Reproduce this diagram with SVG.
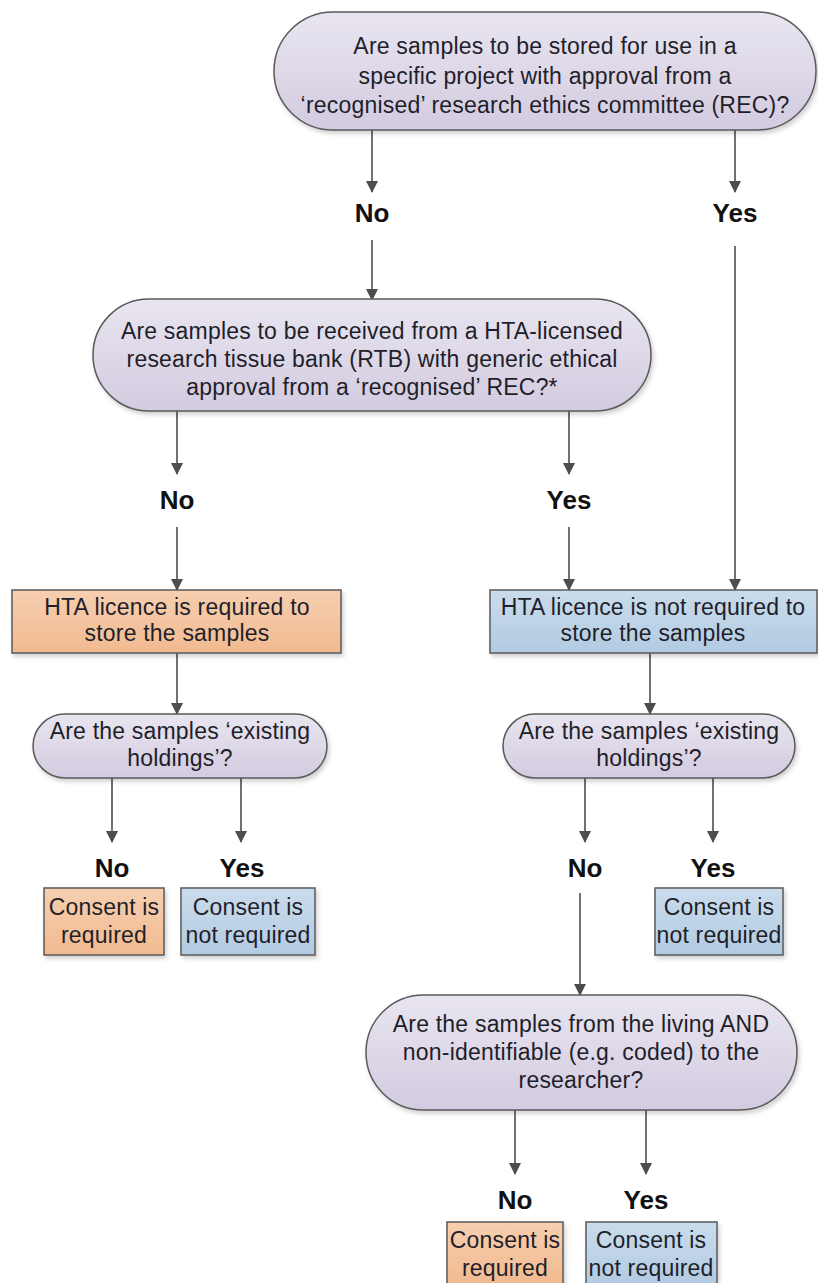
<svg xmlns="http://www.w3.org/2000/svg" width="818" height="1283" viewBox="0 0 818 1283">
<defs>
<linearGradient id="gp" x1="0" y1="0" x2="0" y2="1"><stop offset="0" stop-color="#e9e5f0"/><stop offset="1" stop-color="#d3cbe0"/></linearGradient>
<linearGradient id="go" x1="0" y1="0" x2="0" y2="1"><stop offset="0" stop-color="#f7cfb0"/><stop offset="1" stop-color="#f1ba90"/></linearGradient>
<linearGradient id="gb" x1="0" y1="0" x2="0" y2="1"><stop offset="0" stop-color="#cadcec"/><stop offset="1" stop-color="#b2cbe2"/></linearGradient>
<filter id="sh" x="-5%" y="-5%" width="115%" height="125%"><feDropShadow dx="2" dy="3" stdDeviation="2" flood-color="#000" flood-opacity="0.18"/></filter>
<marker id="ah" markerWidth="12" markerHeight="14" refX="11" refY="6" orient="auto" markerUnits="userSpaceOnUse" viewBox="0 0 12 12"><path d="M0,0 L12,6 L0,12 z" fill="#4d4d4d"/></marker>
</defs>
<style>
.p{fill:url(#gp);stroke:#5a5a5a;stroke-width:1.5;filter:url(#sh)}
.o{fill:url(#go);stroke:#5a5a5a;stroke-width:1.5;filter:url(#sh)}
.b{fill:url(#gb);stroke:#5a5a5a;stroke-width:1.5;filter:url(#sh)}
.t{font-family:"Liberation Sans",Arial,sans-serif;font-size:23px;letter-spacing:0.2px;fill:#1f1f2a;text-anchor:middle}
.l{font-family:"Liberation Sans",Arial,sans-serif;font-size:26px;font-weight:bold;fill:#111;text-anchor:middle}
.c{stroke:#4d4d4d;stroke-width:1.6;fill:none;marker-end:url(#ah)}
</style>
<g id="connectors">
<line class="c" x1="372" y1="130" x2="372" y2="192"/>
<line class="c" x1="372" y1="240" x2="372" y2="300"/>
<line class="c" x1="735" y1="130" x2="735" y2="192"/>
<line class="c" x1="735" y1="246" x2="735" y2="590"/>
<line class="c" x1="177" y1="411" x2="177" y2="474"/>
<line class="c" x1="177" y1="527" x2="177" y2="590"/>
<line class="c" x1="569" y1="411" x2="569" y2="474"/>
<line class="c" x1="569" y1="527" x2="569" y2="590"/>
<line class="c" x1="177" y1="653" x2="177" y2="714"/>
<line class="c" x1="650" y1="653" x2="650" y2="714"/>
<line class="c" x1="112" y1="778" x2="112" y2="842"/>
<line class="c" x1="241" y1="778" x2="241" y2="842"/>
<line class="c" x1="585" y1="778" x2="585" y2="842"/>
<line class="c" x1="713" y1="778" x2="713" y2="842"/>
<line class="c" x1="580" y1="893" x2="580" y2="995"/>
<line class="c" x1="515" y1="1110" x2="515" y2="1174"/>
<line class="c" x1="646" y1="1110" x2="646" y2="1174"/>
</g>
<g id="q1"><rect class="p" x="274" y="12" width="542" height="118" rx="59"/>
<text class="t" x="545" y="54">Are samples to be stored for use in a</text>
<text class="t" x="545" y="84">specific project with approval from a</text>
<text class="t" x="545" y="113">‘recognised’ research ethics committee (REC)?</text></g>
<g id="l1no"><text class="l" x="372" y="222">No</text></g>
<g id="l1yes"><text class="l" x="735" y="222">Yes</text></g>
<g id="q2"><rect class="p" x="93" y="299" width="558" height="112" rx="56"/>
<text class="t" x="372" y="339">Are samples to be received from a HTA-licensed</text>
<text class="t" x="372" y="367">research tissue bank (RTB) with generic ethical</text>
<text class="t" x="372" y="395">approval from a ‘recognised’ REC?*</text></g>
<g id="l2no"><text class="l" x="177" y="509">No</text></g>
<g id="l2yes"><text class="l" x="569" y="509">Yes</text></g>
<g id="r1"><rect class="o" x="12" y="590" width="329" height="63"/>
<text class="t" x="177" y="615">HTA licence is required to</text>
<text class="t" x="177" y="641">store the samples</text></g>
<g id="r2"><rect class="b" x="490" y="590" width="327" height="63"/>
<text class="t" x="653" y="615">HTA licence is not required to</text>
<text class="t" x="653" y="641">store the samples</text></g>
<g id="q3"><rect class="p" x="33" y="714" width="294" height="64" rx="32"/>
<text class="t" x="180" y="739">Are the samples ‘existing</text>
<text class="t" x="180" y="766">holdings’?</text></g>
<g id="q4"><rect class="p" x="503" y="714" width="292" height="64" rx="32"/>
<text class="t" x="649" y="739">Are the samples ‘existing</text>
<text class="t" x="649" y="766">holdings’?</text></g>
<g id="l3no"><text class="l" x="112" y="877">No</text></g>
<g id="l3yes"><text class="l" x="242" y="877">Yes</text></g>
<g id="l4no"><text class="l" x="585" y="877">No</text></g>
<g id="l4yes"><text class="l" x="713" y="877">Yes</text></g>
<g id="c1"><rect class="o" x="44" y="888" width="120" height="67"/>
<text class="t" x="104" y="915">Consent is</text>
<text class="t" x="104" y="943">required</text></g>
<g id="c2"><rect class="b" x="181" y="888" width="134" height="67"/>
<text class="t" x="248" y="915">Consent is</text>
<text class="t" x="248" y="943">not required</text></g>
<g id="c3"><rect class="b" x="655" y="888" width="128" height="67"/>
<text class="t" x="719" y="915">Consent is</text>
<text class="t" x="719" y="943">not required</text></g>
<g id="q5"><rect class="p" x="366" y="995" width="431" height="115" rx="57.5"/>
<text class="t" x="581" y="1032">Are the samples from the living AND</text>
<text class="t" x="581" y="1060">non-identifiable (e.g. coded) to the</text>
<text class="t" x="581" y="1088">researcher?</text></g>
<g id="l5no"><text class="l" x="515" y="1209">No</text></g>
<g id="l5yes"><text class="l" x="646" y="1209">Yes</text></g>
<g id="c4"><rect class="o" x="447" y="1222" width="116" height="62"/>
<text class="t" x="505" y="1248">Consent is</text>
<text class="t" x="505" y="1276">required</text></g>
<g id="c5"><rect class="b" x="586" y="1222" width="131" height="62"/>
<text class="t" x="651" y="1248">Consent is</text>
<text class="t" x="651" y="1276">not required</text></g>
</svg>
